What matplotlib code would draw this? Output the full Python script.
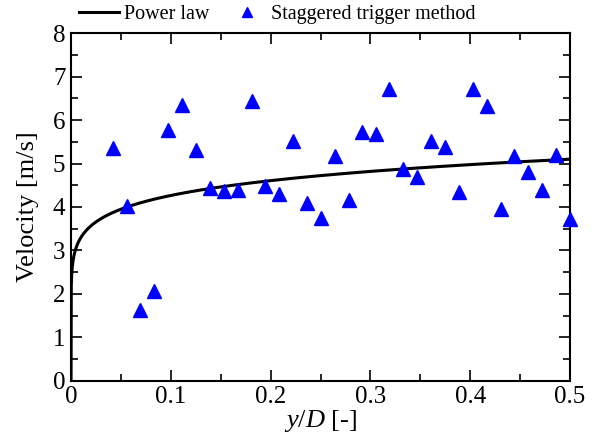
import matplotlib
matplotlib.use("Agg")
import matplotlib.pyplot as plt
import numpy as np
from matplotlib.ticker import MultipleLocator

plt.rcParams['font.family'] = ['Liberation Serif', 'DejaVu Serif']
plt.rcParams['mathtext.fontset'] = 'custom'
plt.rcParams['mathtext.rm'] = 'Liberation Serif'
plt.rcParams['mathtext.it'] = 'Liberation Serif:italic'

# measured points (staggered trigger method)
y_over_d = [0.042, 0.056, 0.069, 0.083, 0.097, 0.111, 0.125, 0.139, 0.153,
            0.167, 0.181, 0.194, 0.208, 0.222, 0.236, 0.250, 0.264, 0.278,
            0.292, 0.306, 0.319, 0.333, 0.347, 0.361, 0.375, 0.389, 0.403,
            0.417, 0.431, 0.444, 0.458, 0.472, 0.486, 0.500]
velocity = [5.36, 4.02, 1.63, 2.07, 5.77, 6.34, 5.31, 4.44, 4.37,
            4.39, 6.44, 4.48, 4.30, 5.52, 4.09, 3.75, 5.17, 4.16,
            5.72, 5.68, 6.71, 4.87, 4.69, 5.52, 5.38, 4.34, 6.71,
            6.32, 3.95, 5.17, 4.80, 4.39, 5.20, 3.72]

# power law profile u = U_c * (y / R)^(1/n)
u_center = 5.1
n_exp = 9.0

fig = plt.figure(figsize=(6.02, 4.48), dpi=100)
ax = fig.add_axes([0.118, 0.150, 0.829, 0.776])

yy = np.linspace(0, 0.5, 2000)
ax.plot(yy, u_center * (yy / 0.5) ** (1.0 / n_exp), color='black', lw=2.2,
        label='Power law')
ax.plot(y_over_d, velocity, linestyle='none', marker='^', ms=10, color='blue',
        label='Staggered trigger method', clip_on=False, zorder=3)

ax.set_xlim(0, 0.5)
ax.set_ylim(0, 8)
ax.xaxis.set_major_locator(MultipleLocator(0.1))
ax.xaxis.set_minor_locator(MultipleLocator(0.05))
ax.yaxis.set_major_locator(MultipleLocator(1))
ax.yaxis.set_minor_locator(MultipleLocator(0.5))
ax.set_xticks([0, 0.1, 0.2, 0.3, 0.4, 0.5])
ax.set_xticklabels(['0', '0.1', '0.2', '0.3', '0.4', '0.5'])
ax.tick_params(which='both', direction='in', top=True, right=True,
               labelsize=18, width=1.2)
ax.tick_params(which='major', length=8, pad=4)
ax.tick_params(which='minor', length=5)
for s in ax.spines.values():
    s.set_linewidth(1.5)

ax.set_xlabel(r'$y/D$ [-]', fontsize=19, labelpad=0)
ax.set_ylabel('Velocity [m/s]', fontsize=19, labelpad=10)

fig.legend(*ax.get_legend_handles_labels(), loc='center',
           bbox_to_anchor=(0.461, 0.967), ncol=2, frameon=False,
           fontsize=14.5, handlelength=2.0, columnspacing=0.9,
           handletextpad=0.2, markerscale=0.75, borderpad=0)

fig.savefig('out.png', dpi=100)
